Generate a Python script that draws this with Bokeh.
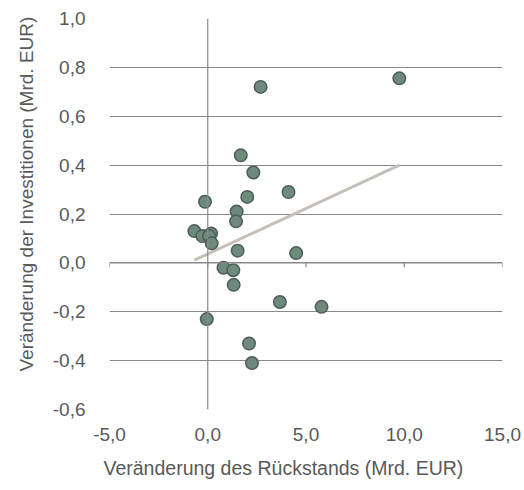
import numpy as np
from bokeh.plotting import figure
from bokeh.models import Span, FixedTicker, CustomJSTickFormatter, Title
from bokeh.embed import file_html
from bokeh.resources import INLINE

# Data
backlog_change = [2.69, 1.68, 2.32, 4.11, -0.14, 2.01, 1.47, 1.44, -0.68, -0.27, 0.17, 0.07,
                  0.20, 1.52, 4.50, 0.80, 1.30, 1.32, 3.67, 5.79, -0.05, 2.10, 2.25, 9.75]
invest_change = [0.72, 0.44, 0.37, 0.29, 0.25, 0.27, 0.21, 0.17, 0.13, 0.11, 0.12, 0.11,
                 0.08, 0.05, 0.04, -0.02, -0.03, -0.09, -0.16, -0.18, -0.23, -0.33, -0.41, 0.755]
x_ticks = [-5, 0, 5, 10, 15]
y_ticks = [-0.6, -0.4, -0.2, 0.0, 0.2, 0.4, 0.6, 0.8, 1.0]
x_label = "Veränderung des Rückstands (Mrd. EUR)"
y_label = "Veränderung der Investitionen (Mrd. EUR)"

TEXT = "#595959"
GRID = "#898989"
FONT = "Liberation Sans"

p = figure(width=524, height=490, x_range=(-5, 15), y_range=(-0.6, 1.0),
           output_backend="svg", toolbar_location=None,
           min_border_left=108, min_border_right=22, min_border_top=18, min_border_bottom=80)
p.outline_line_color = None
p.background_fill_color = "white"

# grid
p.xgrid.visible = False
p.ygrid.grid_line_color = GRID
p.ygrid.grid_line_width = 1.2
p.ygrid.ticker = FixedTicker(ticks=y_ticks)

for ax in (p.xaxis[0], p.yaxis[0]):
    ax.axis_line_color = None
    ax.major_tick_line_color = None
    ax.minor_tick_line_color = None
    ax.major_label_text_color = TEXT
    ax.major_label_text_font = FONT
    ax.major_label_text_font_size = "19px"

fmt = CustomJSTickFormatter(code="return tick.toFixed(1).replace('.', ',');")
p.xaxis.ticker = FixedTicker(ticks=x_ticks)
p.yaxis.ticker = FixedTicker(ticks=y_ticks)
p.xaxis.formatter = fmt
p.yaxis.formatter = fmt
p.xaxis.major_label_standoff = 12
p.yaxis.major_label_standoff = 18

# axis titles (offset like the original, not centred on the plot area)
xt = Title(text=x_label, align="left", offset=-6, standoff=23,
           text_font=FONT, text_font_size="19.5px", text_font_style="normal", text_color=TEXT)
yt = Title(text=y_label, align="left", offset=38, standoff=26,
           text_font=FONT, text_font_size="19px", text_font_style="normal", text_color=TEXT)
p.add_layout(xt, "below")
p.add_layout(yt, "left")

# axes crossing at zero
p.add_layout(Span(location=0, dimension="height", line_color=GRID, line_width=1.2))
p.add_layout(Span(location=0, dimension="width", line_color=GRID, line_width=1.2))
# small tick marks on the zero axis
p.segment(x0=x_ticks, x1=x_ticks, y0=[0] * len(x_ticks), y1=[-0.018] * len(x_ticks),
          line_color=GRID, line_width=1.2)

# trend line (least squares)
xs = np.array(backlog_change)
ys = np.array(invest_change)
m, b = np.polyfit(xs, ys, 1)
tx = [xs.min(), xs.max()]
p.line(tx, [m * tx[0] + b, m * tx[1] + b], line_color="#c6bfb8", line_width=3)

p.scatter(backlog_change, invest_change, size=12.5, fill_color="#6e8a7c",
          line_color="#4e5c5a", line_width=1.5)

open("out.html", "w").write(file_html(p, INLINE))
